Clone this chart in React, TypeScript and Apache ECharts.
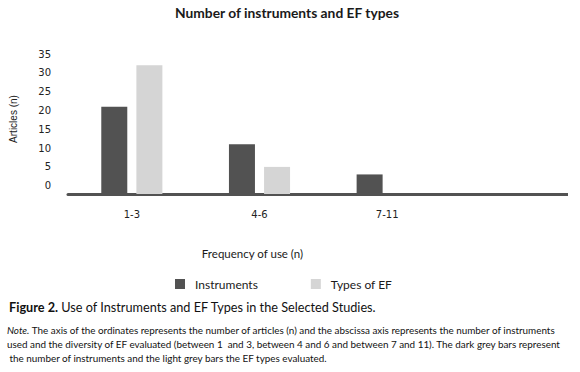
import React, { useEffect, useRef } from "react";
import * as echarts from "echarts";

const categories = ["1-3", "4-6", "7-11"];
const instruments = [21, 11, 3];
const efTypes = [32, 5, 0];
const yTicks = [0, 5, 10, 15, 20, 25, 30, 35];
const seriesNames = ["Instruments", "Types of EF"];

const Y_MAX = 35;
const BASELINE_OFFSET = 2.2; // the axis line sits a little below the "0" label
const DARK = "#525252";
const LIGHT = "#d5d5d5";

export default function App() {
  const ref = useRef<HTMLDivElement>(null);
  useEffect(() => {
    document.body.style.margin = "0";
    if (!ref.current) return;
    const chart = echarts.init(ref.current, undefined, { renderer: "svg" });
    const shift = (arr: number[]) => arr.map((v) => v + BASELINE_OFFSET);
    chart.setOption({
      animation: false,
      backgroundColor: "#ffffff",
      title: {
        text: "Number of instruments and EF types",
        left: 175,
        top: 5,
        padding: 0,
        textStyle: { fontFamily: "Lato", fontSize: 13.8, fontWeight: "bold", color: "#1a1a1a" },
      },
      grid: { left: 66, right: 129, top: 54, bottom: 178, containLabel: false },
      legend: {
        data: seriesNames,
        left: 175,
        top: 278,
        padding: 0,
        itemWidth: 10,
        itemHeight: 10,
        itemGap: 53,
        icon: "rect",
        textStyle: { fontFamily: "Lato", fontSize: 12, color: "#1a1a1a", padding: [0, 0, 0, 5] },
      },
      xAxis: {
        type: "category",
        data: categories,
        name: "Frequency of use (n)",
        nameLocation: "middle",
        nameGap: 53,
        nameTextStyle: { fontFamily: "Lato", fontSize: 11.5, color: "#1a1a1a", padding: [0, 14, 0, 0] },
        axisLine: { show: true, onZero: false, lineStyle: { color: DARK, width: 3 } },
        axisTick: { show: false },
        axisLabel: { margin: 15, fontFamily: "DejaVu Sans", fontSize: 10, color: "#222" },
      },
      yAxis: {
        type: "value",
        min: 0,
        max: Y_MAX + BASELINE_OFFSET,
        name: "Articles (n)",
        nameLocation: "middle",
        nameGap: 50,
        nameRotate: 90,
        nameTextStyle: { fontFamily: "Liberation Sans", fontSize: 10, color: "#222", padding: [0, 0, 0, 10] },
        axisLine: { show: false },
        axisTick: { show: false },
        splitLine: { show: false },
        axisLabel: {
          customValues: shift(yTicks),
          formatter: (v: number) => String(Math.round(v - BASELINE_OFFSET)),
          margin: 17,
          fontFamily: "DejaVu Sans",
          fontSize: 10,
          color: "#222",
        },
      },
      series: [
        {
          name: seriesNames[0],
          type: "bar",
          data: shift(instruments),
          barWidth: 26,
          barGap: "35%",
          itemStyle: { color: DARK },
        },
        {
          name: seriesNames[1],
          type: "bar",
          data: efTypes.map((v) => (v === 0 ? 0 : v + BASELINE_OFFSET)),
          barWidth: 26,
          barGap: "35%",
          itemStyle: { color: LIGHT },
        },
      ],
      graphic: [
        {
          type: "line",
          shape: { x1: 450, y1: 194.5, x2: 568, y2: 194.5 },
          style: { stroke: DARK, lineWidth: 3 },
          z: 0,
        },
        {
          type: "text",
          left: 9,
          top: 300,
          style: {
            text: "{b|Figure 2.} {r|Use of Instruments and EF Types in the Selected Studies.}",
            rich: {
              b: { fontFamily: "Lato", fontSize: 12.7, fontWeight: "bold", fill: "#111" },
              r: { fontFamily: "Lato", fontSize: 12.7, fill: "#111" },
            },
            fontFamily: "Lato",
            fontSize: 12.7,
            fill: "#111",
          },
        },
        {
          type: "text",
          left: 7,
          top: 323,
          style: {
            text:
              "{i|Note.} {r|The axis of the ordinates represents the number of articles (n) and the abscissa axis represents the number of instruments}\n" +
              "{r|used and the diversity of EF evaluated (between 1  and 3, between 4 and 6 and between 7 and 11). The dark grey bars represent}\n" +
              "{r| the number of instruments and the light grey bars the EF types evaluated.}",
            rich: {
              i: { fontFamily: "Lato", fontSize: 9.9, fontStyle: "italic", fill: "#111", lineHeight: 14 },
              r: { fontFamily: "Lato", fontSize: 9.9, fill: "#111", lineHeight: 14 },
            },
            fontFamily: "Lato",
            fontSize: 9.9,
            lineHeight: 14,
            fill: "#111",
          },
        },
      ],
    });
    return () => chart.dispose();
  }, []);
  return <div ref={ref} style={{ width: 580, height: 372 }} />;
}
